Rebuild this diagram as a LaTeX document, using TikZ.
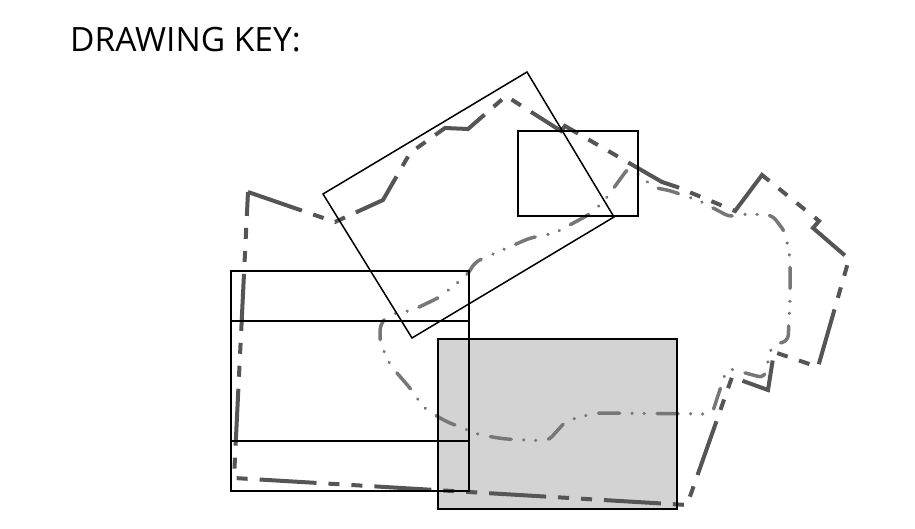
\documentclass[tikz,border=0pt]{standalone}
\usepackage{fontspec}
\setmainfont{Open Sans}
\definecolor{darkline}{HTML}{555555}
\definecolor{lightline}{HTML}{777777}
\definecolor{panelgray}{HTML}{D3D3D3}
\begin{document}
\begin{tikzpicture}[x=1pt,y=-1pt,
  outline/.style={draw=black,line width=1.5pt,line join=miter},
  innerline/.style={draw=black,line width=1.2pt},
  boundaryline/.style={draw=darkline,line width=4pt,line cap=butt,line join=miter,
    dash pattern=on 57pt off 12pt on 11pt off 12pt on 11pt off 12pt},
  contourline/.style={draw=lightline,line width=3.5pt,line cap=round,rounded corners=6pt,
    dash pattern=on 21pt off 12.5pt on 0.01pt off 12pt on 0.01pt off 13pt},
  titletext/.style={anchor=base west,inner sep=0pt,font=\fontsize{33.5}{40}\selectfont}
]
\useasboundingbox (0,0) rectangle (915,529);
\fill[white] (0,0) rectangle (915,529);

% title
\node[titletext] (title) at (70,52) {DRAWING KEY:};

% grey panel fill
\fill[panelgray] (438,339) rectangle (677,509);

% outer dash-dot boundary
\draw[boundaryline] (248,192) -- (335,222) -- (383,200) -- (410,153) -- (445,128)
  -- (468,129) -- (506,96) -- (561,131) -- (565,126) -- (662,182) -- (677,187)
  -- (735,211) -- (762,175) -- (819,221) -- (813,228) -- (849,259) -- (818,367)
  -- (774,352) -- (768,390) -- (732,377) -- (687,505) -- (234,478) -- cycle;

% inner dash-dot-dot contour
\draw[contourline] (712,414) -- (727,368) -- (764,378) -- (772,345) -- (788,341)
  -- (790,300) -- (790,258) -- (785,232) -- (772,215) -- (745,214) -- (730,217)
  -- (700,201) -- (668,190) -- (655,188) -- (629,167) -- (605,200) -- (590,214)
  -- (555,233) -- (530,238) -- (500,251) -- (475,262) -- (468,274) -- (440,297)
  -- (413,310) -- (388,315) -- (380,325) -- (380,342) -- (390,365) -- (410,388)
  -- (424,408) -- (445,421) -- (480,435) -- (505,439) -- (548,441) -- (566,421)
  -- (595,413) -- cycle;

% black outlines
\draw[outline] (438,339) rectangle (677,509);
\draw[outline] (231,271) rectangle (469,491);
\draw[innerline] (231,321) -- (469,321);
\draw[innerline] (231,441) -- (469,441);
\draw[outline] (518,131) rectangle (638,216);
\draw[outline] (527,72) -- (614,217) -- (412,338) -- (323,194) -- cycle;
\end{tikzpicture}
\end{document}
